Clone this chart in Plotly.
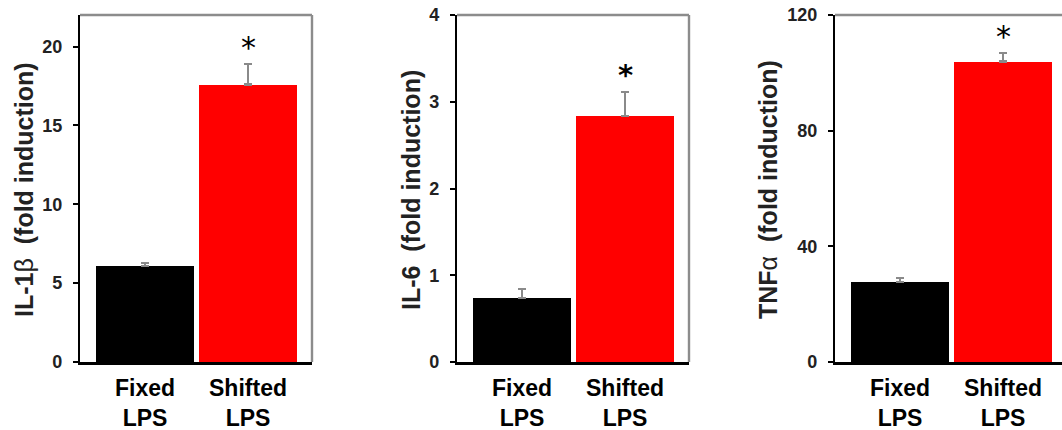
import plotly.graph_objects as go

W, H = 1062, 430

categories = ["Fixed<br>LPS", "Shifted<br>LPS"]
il1b_values = [6.11, 17.59]
il1b_errors = [0.15, 1.31]
il6_values = [0.741, 2.84]
il6_errors = [0.104, 0.277]
tnfa_values = [27.8, 103.9]
tnfa_errors = [1.38, 2.9]

y_titles = ["IL-1<span style='font-weight:normal'>β</span>\u00a0 (fold induction)",
            "IL-6\u00a0 (fold induction)",
            "TNF<span style='font-weight:normal'>α</span>\u00a0 (fold induction)"]
y_ranges = [[0, 22.0], [0, 4], [0, 120]]
y_ticks = [[0, 5, 10, 15, 20], [0, 1, 2, 3, 4], [0, 40, 80, 120]]
star_y = [19.95, 3.31, 112.4]
star_bold = [False, True, False]

panels = [(il1b_values, il1b_errors), (il6_values, il6_errors), (tnfa_values, tnfa_errors)]

# pixel layout
left_px = [80, 457, 835]
width_px = 232
spacing_px = 103.0
first_center_px = 65.0

fig = go.Figure()
bar_colors = ["#000000", "#ff0000"]
xpos = [0, 1]

for i, (vals, errs) in enumerate(panels):
    n = i + 1
    xa = "x" if n == 1 else f"x{n}"
    ya = "y" if n == 1 else f"y{n}"
    fig.add_trace(go.Bar(
        x=xpos, y=vals, width=98 / spacing_px,
        marker=dict(color=bar_colors, line=dict(width=0)),
        error_y=dict(type="data", array=errs, arrayminus=[0, 0], symmetric=False,
                     color="#8a8a8a", thickness=2.2, width=4),
        xaxis=xa, yaxis=ya, showlegend=False, hoverinfo="skip"))

layout = dict(width=W, height=H, margin=dict(l=0, r=0, t=15, b=68),
              plot_bgcolor="white", paper_bgcolor="white", bargap=0,
              font=dict(family="Liberation Sans, Arial, sans-serif", color="#000"))

shapes = []
annotations = []
for i in range(3):
    n = i + 1
    sfx = "" if n == 1 else str(n)
    x0 = left_px[i] / W
    x1 = min((left_px[i] + width_px) / W, 1.0)
    span_px = (x1 * W) - left_px[i]
    xr = [-first_center_px / spacing_px, (span_px - first_center_px) / spacing_px]
    layout["xaxis" + sfx] = dict(
        domain=[x0, x1], range=xr, anchor="y" + sfx,
        tickvals=xpos, ticktext=categories, ticks="",
        showline=True, linecolor="#000", linewidth=2.6,
        tickfont=dict(size=23, color="#000", family="Liberation Sans, Arial, sans-serif", weight="bold"),
        ticklabelstandoff=4, showgrid=False, zeroline=False, fixedrange=True)
    layout["yaxis" + sfx] = dict(
        domain=[0, 1], range=y_ranges[i], anchor="x" + sfx,
        tickvals=y_ticks[i], ticks="outside", ticklen=5, tickwidth=2, tickcolor="#000",
        showline=True, linecolor="#000", linewidth=2.4,
        tickfont=dict(size=18, color="#222", family="Liberation Sans, Arial, sans-serif", weight="bold"),
        ticklabelstandoff=7, showgrid=False, zeroline=False, fixedrange=True)
    ov = str(n + 3)
    layout["yaxis" + ov] = dict(
        overlaying="y" + sfx, anchor="x" + sfx, range=y_ranges[i],
        tickvals=y_ticks[i], ticks="inside", ticklen=5, tickwidth=2, tickcolor="#000",
        showline=False, showticklabels=False, showgrid=False, zeroline=False, fixedrange=True)
    # gray top / right frame
    shapes.append(dict(type="line", xref=f"x{sfx} domain", yref=f"y{sfx} domain",
                       x0=0, x1=1, y0=1, y1=1, line=dict(color="#8c8c8c", width=2.4)))
    if x1 < 1.0:
        shapes.append(dict(type="line", xref=f"x{sfx} domain", yref=f"y{sfx} domain",
                           x0=1, x1=1, y0=0, y1=1, line=dict(color="#8c8c8c", width=2.4)))
    # y title
    title_cx = [24, 411, 768][i]
    annotations.append(dict(text="<b>" + y_titles[i] + "</b>", xref="paper", yref="paper",
                            x=title_cx / W, y=(362 - 190) / 347, xanchor="center", yanchor="middle",
                            textangle=-90, showarrow=False,
                            font=dict(size=25, color="#222", family="Liberation Sans, Arial, sans-serif")))
    # asterisk
    annotations.append(dict(text="*", xref="x" + sfx, yref="y" + sfx, x=1, y=star_y[i],
                            xanchor="center", yanchor="middle", showarrow=False,
                            font=dict(size=30 if not star_bold[i] else 29, color="#000",
                                      family="DejaVu Sans, sans-serif",
                                      weight="bold" if star_bold[i] else "normal")))

layout["shapes"] = shapes
layout["annotations"] = annotations
fig.update_layout(**layout)

fig.write_html("out.html")
